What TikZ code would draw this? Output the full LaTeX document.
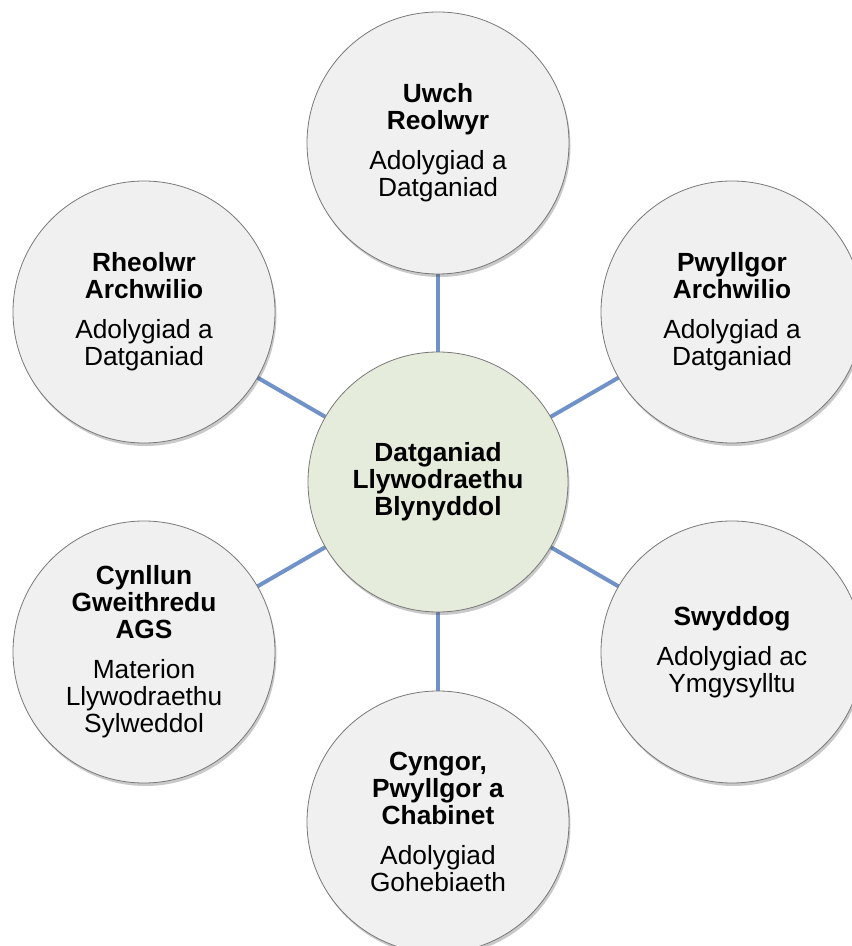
\documentclass[tikz,border=0pt]{standalone}
\usepackage{fontspec}
\setmainfont{Liberation Sans}
\usetikzlibrary{shadows,backgrounds}
\definecolor{outerfill}{RGB}{240,240,240}
\definecolor{centerfill}{RGB}{230,236,219}
\definecolor{ringline}{RGB}{120,120,120}
\definecolor{linkblue}{RGB}{112,146,200}
\tikzset{
  bubble/.style={circle, minimum size=262pt, inner sep=0pt, draw=ringline, line width=0.8pt,
    fill=outerfill, align=center, font=\fontsize{26.3}{27}\selectfont,
    drop shadow={shadow xshift=1.5pt, shadow yshift=-3pt, opacity=0.3, fill=black!70}},
  hub/.style={bubble, fill=centerfill, minimum size=260pt},
  link/.style={draw=linkblue, line width=4pt}
}
\begin{document}
\begin{tikzpicture}[x=1pt,y=1pt]
\useasboundingbox (0,0) rectangle (852,946);
\clip (0,0) rectangle (852,946);
\node[hub] (hub) at (438,464) {\textbf{Datganiad}\\\textbf{Llywodraethu}\\\textbf{Blynyddol}};
\node[bubble] (t) at (438,803) {\textbf{Uwch}\\\textbf{Reolwyr}\\[13pt]Adolygiad a\\Datganiad};
\node[bubble] (tr) at (732,634) {\textbf{Pwyllgor}\\\textbf{Archwilio}\\[13pt]Adolygiad a\\Datganiad};
\node[bubble] (br) at (732,294) {\textbf{Swyddog}\\[13pt]Adolygiad ac\\Ymgysylltu};
\node[bubble] (b) at (438,124) {\textbf{Cyngor,}\\\textbf{Pwyllgor a}\\\textbf{Chabinet}\\[13pt]Adolygiad\\Gohebiaeth};
\node[bubble] (bl) at (144,294) {\textbf{Cynllun}\\\textbf{Gweithredu}\\\textbf{AGS}\\[13pt]Materion\\Llywodraethu\\Sylweddol};
\node[bubble] (tl) at (144,634) {\textbf{Rheolwr}\\\textbf{Archwilio}\\[13pt]Adolygiad a\\Datganiad};
\begin{scope}[on background layer]
\foreach \n in {t,tr,br,b,bl,tl} {\draw[link] (hub.center) -- (\n.center);}
\end{scope}
\end{tikzpicture}
\end{document}
